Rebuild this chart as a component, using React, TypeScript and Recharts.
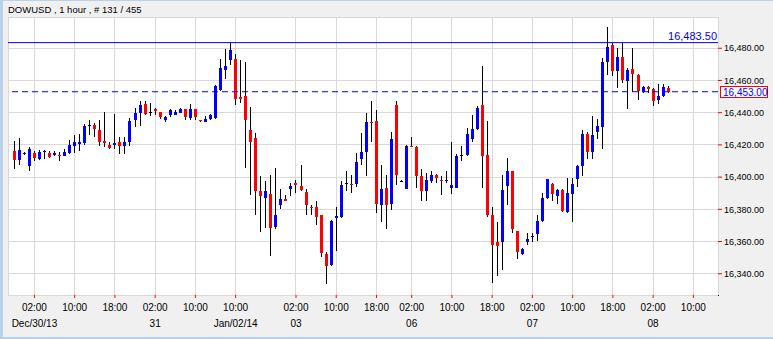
import { ComposedChart, Bar, XAxis, YAxis, CartesianGrid, ReferenceLine } from "recharts"

const FONT = "'Liberation Sans', Arial, sans-serif"

// hourly candles (oldest first)
const opens = [
  16415.9, 16410.7, 16414.2, 16406.6, 16414.9, 16411.4, 16415.3, 16415.1, 16414.0, 16413.8,
  16413.4, 16415.1, 16419.6, 16420.3, 16421.3, 16432.2, 16432.5, 16429.3, 16422.5, 16420.0,
  16419.8, 16422.1, 16419.0, 16421.7, 16435.2, 16439.7, 16445.5, 16440.5, 16442.2, 16440.5,
  16435.6, 16438.7, 16438.7, 16440.1, 16442.2, 16437.0, 16442.2, 16435.6, 16434.5, 16436.0,
  16436.6, 16454.2, 16466.6, 16472.8, 16473.3, 16449.7, 16450.1, 16429.4, 16424.2, 16391.1,
  16386.9, 16389.6, 16369.3, 16382.8, 16386.1, 16392.7, 16396.4, 16394.6, 16390.9, 16381.7,
  16381.7, 16376.2, 16352.3, 16345.5, 16374.3, 16375.5, 16396.4, 16395.8, 16395.8, 16411.4,
  16415.3, 16434.3, 16435.0, 16382.8, 16393.1, 16383.4, 16444.9, 16397.7, 16392.5, 16419.4,
  16418.4, 16400.8, 16391.1, 16397.3, 16401.4, 16398.3, 16397.3, 16393.5, 16393.5, 16413.8,
  16413.8, 16423.6, 16429.8, 16444.9, 16413.8, 16376.2, 16360.0, 16359.4, 16394.2, 16403.9,
  16366.6, 16352.3, 16360.0, 16363.3, 16364.6, 16373.0, 16386.9, 16395.6, 16388.0, 16391.7,
  16378.6, 16389.6, 16398.9, 16406.6, 16426.9, 16415.3, 16428.3, 16431.4, 16471.4, 16482.2,
  16465.6, 16474.5, 16459.4, 16467.0, 16463.5, 16452.6, 16455.7, 16454.6, 16447.6, 16450.1,
  16455.5,
]
const highs = [
  16422.7, 16424.4, 16415.5, 16418.4, 16415.9, 16416.7, 16416.7, 16416.3, 16415.9, 16415.7,
  16417.4, 16423.2, 16426.3, 16426.5, 16433.1, 16435.5, 16433.5, 16435.5, 16440.5, 16422.1,
  16439.3, 16425.2, 16425.2, 16436.6, 16442.8, 16447.0, 16447.4, 16445.9, 16442.8, 16440.5,
  16438.1, 16442.2, 16441.8, 16442.6, 16442.2, 16445.5, 16442.2, 16435.6, 16438.1, 16439.1,
  16457.3, 16473.3, 16479.5, 16483.5, 16476.6, 16472.8, 16471.2, 16443.4, 16427.3, 16400.8,
  16397.3, 16401.4, 16405.6, 16392.5, 16389.0, 16396.2, 16397.9, 16407.4, 16392.5, 16382.8,
  16384.9, 16376.6, 16353.4, 16373.5, 16381.7, 16397.3, 16403.9, 16401.4, 16414.9, 16427.3,
  16439.7, 16447.0, 16441.8, 16407.6, 16401.4, 16428.3, 16447.0, 16398.5, 16420.0, 16424.8,
  16419.0, 16404.9, 16402.5, 16403.5, 16402.0, 16400.8, 16403.9, 16421.5, 16414.3, 16419.0,
  16430.4, 16438.7, 16443.9, 16469.1, 16435.0, 16381.3, 16372.4, 16401.4, 16411.8, 16403.9,
  16366.6, 16355.9, 16365.2, 16365.2, 16376.6, 16390.4, 16398.9, 16396.2, 16392.5, 16392.5,
  16399.3, 16399.3, 16407.4, 16429.4, 16427.9, 16438.1, 16436.2, 16473.9, 16493.5, 16483.5,
  16480.1, 16483.5, 16468.0, 16480.1, 16464.1, 16456.3, 16456.3, 16455.2, 16457.9, 16457.9,
  16456.3,
]
const lows = [
  16405.1, 16407.6, 16413.5, 16403.9, 16409.7, 16410.7, 16411.4, 16411.6, 16412.8, 16410.3,
  16413.2, 16414.5, 16414.9, 16416.5, 16419.8, 16426.3, 16424.6, 16419.0, 16418.6, 16417.4,
  16417.4, 16414.3, 16414.3, 16419.6, 16431.4, 16431.9, 16438.7, 16438.1, 16438.7, 16436.0,
  16434.3, 16437.6, 16438.3, 16439.7, 16435.2, 16435.6, 16435.2, 16433.9, 16433.9, 16435.6,
  16436.2, 16453.2, 16460.8, 16469.7, 16444.9, 16445.9, 16405.6, 16389.0, 16376.6, 16365.8,
  16368.3, 16351.3, 16367.7, 16380.1, 16384.9, 16388.0, 16390.4, 16391.1, 16376.6, 16376.2,
  16370.4, 16350.7, 16333.5, 16344.5, 16354.4, 16374.5, 16391.1, 16390.4, 16393.8, 16407.6,
  16400.4, 16421.5, 16378.0, 16372.4, 16367.9, 16379.3, 16395.2, 16397.0, 16392.5, 16418.4,
  16393.1, 16384.9, 16384.9, 16396.2, 16396.2, 16389.0, 16396.2, 16389.6, 16393.1, 16410.0,
  16412.8, 16422.1, 16429.0, 16393.1, 16375.5, 16334.1, 16338.7, 16342.4, 16382.8, 16365.2,
  16349.0, 16351.7, 16357.9, 16359.4, 16360.4, 16372.4, 16386.3, 16385.3, 16383.4, 16378.6,
  16377.6, 16372.4, 16393.8, 16400.8, 16411.1, 16411.1, 16423.6, 16417.6, 16463.5, 16462.5,
  16455.2, 16458.4, 16442.2, 16452.6, 16448.0, 16452.2, 16452.2, 16444.3, 16445.5, 16449.7,
  16452.4,
]
const closes = [
  16410.7, 16416.9, 16414.8, 16417.4, 16411.6, 16415.7, 16415.9, 16412.2, 16414.7, 16413.4,
  16415.7, 16420.0, 16421.5, 16421.9, 16431.9, 16432.2, 16429.6, 16422.1, 16420.9, 16417.8,
  16420.9, 16419.0, 16422.1, 16435.0, 16439.9, 16444.9, 16439.3, 16440.5, 16441.0, 16437.4,
  16437.6, 16441.8, 16440.5, 16442.2, 16437.6, 16442.2, 16437.6, 16435.0, 16436.2, 16438.7,
  16456.7, 16467.7, 16468.7, 16479.1, 16448.6, 16448.6, 16435.2, 16422.1, 16391.1, 16388.0,
  16391.1, 16368.7, 16376.6, 16386.5, 16385.3, 16394.6, 16395.2, 16391.7, 16382.4, 16381.1,
  16375.5, 16352.8, 16345.1, 16372.8, 16376.0, 16395.2, 16396.4, 16395.2, 16409.5, 16415.3,
  16433.9, 16433.9, 16383.4, 16392.7, 16382.8, 16423.8, 16401.4, 16397.7, 16419.4, 16418.8,
  16400.4, 16391.1, 16397.9, 16401.4, 16399.3, 16397.3, 16398.3, 16395.2, 16413.2, 16413.8,
  16426.9, 16429.8, 16442.8, 16413.4, 16376.6, 16357.9, 16357.5, 16392.1, 16403.5, 16367.7,
  16353.2, 16355.2, 16361.5, 16363.7, 16372.8, 16386.9, 16398.7, 16389.6, 16392.1, 16379.1,
  16390.0, 16395.6, 16406.6, 16426.9, 16415.3, 16426.3, 16431.9, 16471.4, 16480.7, 16465.6,
  16474.5, 16460.4, 16466.6, 16464.1, 16453.2, 16455.7, 16454.7, 16447.0, 16450.1, 16455.9,
  16453.0,
]

// time axis: candle slot of each labelled hour, plus the date shown under it
const tickIndex = [4, 12, 20, 28, 36, 44, 56, 64, 72, 79, 87, 95, 103, 111, 119, 127, 135]
const tickTimes = ["02:00", "10:00", "18:00", "02:00", "10:00", "10:00", "02:00", "10:00", "18:00",
  "02:00", "10:00", "18:00", "02:00", "10:00", "18:00", "02:00", "10:00"]
const tickDates = ["Dec/30/13", "", "", "31", "", "Jan/02/14", "03", "", "", "06", "", "", "07", "", "", "08", ""]
const priceTicks = [16340, 16360, 16380, 16400, 16420, 16440, 16460, 16480]

const SLOTS = 140 // visible slots incl. empty space after the last bar
const HIGH_LINE = 16483.5
const LAST_PRICE = 16453

const fmt = (v: number) => v.toLocaleString("en-US", { minimumFractionDigits: 2, maximumFractionDigits: 2 })

const chartData = Array.from({ length: SLOTS }, (_, i) =>
  i < opens.length
    ? { i, range: [lows[i], highs[i]], open: opens[i], close: closes[i] }
    : { i, range: null, open: null, close: null }
)

function Candle(props: any) {
  const { x, y, width, height, payload } = props
  if (!payload || payload.range == null) return null
  const [lo, hi] = payload.range
  const top = Math.min(y, y + height)
  const bottom = Math.max(y, y + height)
  const span = hi - lo || 1
  const py = (v: number) => top + ((hi - v) / span) * (bottom - top)
  const cx = Math.floor(x + width / 2)
  const { open, close } = payload
  const color = close > open ? "#0000ff" : close < open ? "#ff0000" : "#000000"
  const bTop = Math.round(py(Math.max(open, close)))
  const bBot = Math.round(py(Math.min(open, close)))
  return (
    <g shapeRendering="crispEdges">
      <rect x={cx} y={Math.round(top)} width={1} height={Math.max(1, Math.round(bottom) - Math.round(top))} fill="#000" />
      <rect x={cx - 1} y={bTop} width={3} height={Math.max(1, bBot - bTop)} fill={color} />
    </g>
  )
}

function TimeTick(props: any) {
  const { x, y, payload } = props
  const k = tickIndex.indexOf(payload.value)
  if (k < 0) return null
  return (
    <g>
      <text x={x} y={y + 11} textAnchor="middle" fontSize={10} fontFamily={FONT} fill="#000">
        {tickTimes[k]}
      </text>
      {tickDates[k] ? (
        <text x={x} y={y + 27} textAnchor="middle" fontSize={10} fontFamily={FONT} fill="#000">
          {tickDates[k]}
        </text>
      ) : null}
    </g>
  )
}

const HighLabel = (props: any) => {
  const { x, y, width } = props.viewBox
  return (
    <text x={x + width - 1} y={y - 3} textAnchor="end" fontSize={11} fontFamily={FONT} fill="#0000ff">
      {fmt(HIGH_LINE)}
    </text>
  )
}

const PriceTag = (props: any) => {
  const { x, y, width } = props.viewBox
  const right = x + width
  return (
    <g>
      <rect x={right + 2.5} y={Math.round(y) - 5.5} width={47} height={11} fill="#fff" stroke="#ff0000" />
      <text x={right + 5} y={Math.round(y) + 3.5} fontSize={10} fontFamily={FONT} fill="#0000ff">
        {fmt(LAST_PRICE)}
      </text>
    </g>
  )
}

export default function App() {
  return (
    <div style={{ position: "absolute", left: 0, top: 0, width: 773, height: 339, background: "#f0f0f0", overflow: "hidden" }}>
      <svg width={773} height={339} style={{ position: "absolute", left: 0, top: 0 }}>
        <rect x={0} y={0} width={773} height={1} fill="#b9d1ea" />
        <rect x={0} y={0} width={3} height={339} fill="#b9d1ea" />
        <rect x={0} y={337} width={773} height={2} fill="#b9d1ea" />
        <rect x={8.5} y={17.5} width={710} height={278} fill="#fff" stroke="#000" shapeRendering="crispEdges" />
        <text x={8} y={12.5} fontSize={9.5} fontFamily={FONT} fill="#000">
          DOWUSD , 1 hour , # 131 / 455
        </text>
      </svg>
      <div style={{ position: "absolute", left: 0, top: 0 }}>
        <ComposedChart width={773} height={339} data={chartData} margin={{ top: 17, right: 0, bottom: 0, left: 8 }}>
          <CartesianGrid stroke="#d9d9d9" strokeWidth={1} shapeRendering="crispEdges" />
          <XAxis
            dataKey="i"
            type="category"
            ticks={tickIndex}
            interval={0}
            height={44}
            padding={{ left: 3.8, right: 2 }}
            axisLine={false}
            tickLine={{ stroke: "#ff0000" }}
            tickSize={3}
            tick={<TimeTick />}
          />
          <YAxis
            orientation="right"
            width={55}
            type="number"
            domain={[16326.8, 16499.4]}
            allowDataOverflow
            ticks={priceTicks}
            tickFormatter={fmt}
            axisLine={false}
            tickLine={{ stroke: "#ff0000" }}
            tickSize={4}
            tick={{ fontSize: 9, fontFamily: FONT, fill: "#000" }}
          />
          <ReferenceLine y={HIGH_LINE} stroke="#0000ff" strokeWidth={1} label={HighLabel} />
          <ReferenceLine y={LAST_PRICE} stroke="#0000ff" strokeDasharray="6 4" strokeWidth={1} label={PriceTag} />
          <Bar dataKey="range" barSize={3} isAnimationActive={false} shape={(p: any) => <Candle {...p} />} />
        </ComposedChart>
      </div>
    </div>
  )
}
